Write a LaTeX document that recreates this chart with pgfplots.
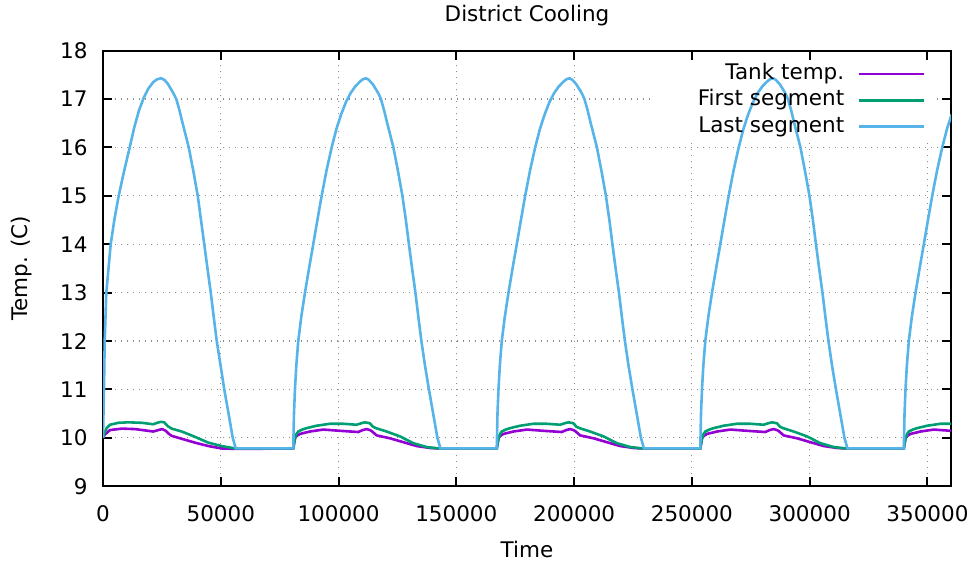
\documentclass[border=0pt]{standalone}
\usepackage{fontspec}
\setmainfont{DejaVu Sans}
\usepackage{pgfplots}
\pgfplotsset{compat=1.18}
\newcommand\ff{\fontsize{10.75}{13}\selectfont}
\definecolor{cTank}{HTML}{9400D3}
\definecolor{cFirst}{HTML}{009E73}
\definecolor{cLast}{HTML}{56B4E9}
\begin{document}
\begin{tikzpicture}
\useasboundingbox (-51.5pt,-42pt) rectangle (437.5pt,243.1pt);
\begin{axis}[
  at={(0,0)}, anchor=south west,
  scale only axis, width=424pt, height=217.75pt,
  xmin=0, xmax=360000, ymin=9, ymax=18,
  xtick={0,50000,100000,150000,200000,250000,300000,350000},
  ytick={9,10,11,12,13,14,15,16,17,18},
  scaled x ticks=false, scaled y ticks=false,
  /pgf/number format/assume math mode=true,
  xticklabel style={font=\ff, anchor=base, yshift=-17.5pt, /pgf/number format/fixed, /pgf/number format/1000 sep={}},
  yticklabel style={font=\ff, anchor=east, inner sep=0pt, xshift=-7.5pt},
  axis line style={line width=1pt},
  every tick/.style={black, line width=1pt},
  major tick length=4.5pt, tick align=inside,
  grid=major,
  major grid style={black!45, line width=0.6pt, dash pattern=on 0.6pt off 2.4pt},
  legend plot pos=right,
  legend image code/.code={\draw[#1, line width=1.3pt] (0pt,0pt) -- (32.5pt,0pt);},
  legend style={at={(rel axis cs:1,1)}, anchor=north east, xshift=-12.7pt, yshift=-5.0pt,
    draw=none, fill=none, font=\ff, inner sep=0pt, row sep=0pt, column sep=5.4pt,
    cells={anchor=east}, nodes={inner sep=1.3pt, text height=8pt, text depth=2.5pt}},
]
\fill[white] (axis cs:234300,16.19) rectangle (axis cs:353100,17.8);
\addplot[cTank, line width=1.3pt] table {
0 10.0
800 10.07
1560 10.10
2970 10.16
7940 10.19
13580 10.18
21350 10.13
23500 10.16
25000 10.18
26500 10.15
28000 10.08
29150 10.04
33400 9.98
39040 9.90
44690 9.83
50360 9.78
56020 9.77
80770 9.78
81490 9.99
82270 10.04
83600 10.08
87850 10.13
93500 10.17
101980 10.14
108350 10.12
110270 10.16
111900 10.18
113270 10.16
114040 10.14
116160 10.05
121800 9.99
127450 9.91
133130 9.83
138780 9.79
142300 9.78
167170 9.78
167890 9.99
168670 10.04
170000 10.08
174250 10.13
179900 10.17
188380 10.14
194750 10.12
196670 10.16
198300 10.18
199670 10.16
200440 10.14
202560 10.05
208200 9.99
213850 9.91
219530 9.83
225180 9.79
228700 9.78
253570 9.78
254290 9.99
255070 10.04
256400 10.08
260650 10.13
266300 10.17
274780 10.14
281150 10.12
283070 10.16
284700 10.18
286070 10.16
286840 10.14
288960 10.05
294600 9.99
300250 9.91
305930 9.83
311580 9.79
315100 9.78
339970 9.78
340690 9.99
341470 10.04
342800 10.08
347050 10.13
352700 10.17
361180 10.14
};
\addlegendentry{Tank temp.}
\addplot[cFirst, line width=1.3pt] table {
0 10.0
800 10.12
1560 10.20
2970 10.27
6500 10.31
10740 10.32
16420 10.31
21350 10.28
23000 10.31
24500 10.33
26000 10.32
27500 10.24
29150 10.19
33400 10.13
39040 10.02
44690 9.90
50360 9.83
56020 9.78
80770 9.78
81490 9.99
82170 10.08
82900 10.13
84570 10.17
86450 10.20
90700 10.25
96340 10.29
101980 10.29
107670 10.27
109570 10.30
111190 10.32
113310 10.30
114570 10.23
115860 10.20
120400 10.13
126050 10.03
131690 9.89
137340 9.81
142300 9.78
167170 9.78
167890 9.99
168570 10.08
169300 10.13
170970 10.17
172850 10.20
177100 10.25
182740 10.29
188380 10.29
194070 10.27
195970 10.30
197590 10.32
199710 10.30
200970 10.23
202260 10.20
206800 10.13
212450 10.03
218090 9.89
223740 9.81
228700 9.78
253570 9.78
254290 9.99
254970 10.08
255700 10.13
257370 10.17
259250 10.20
263500 10.25
269140 10.29
274780 10.29
280470 10.27
282370 10.30
283990 10.32
286110 10.30
287370 10.23
288660 10.20
293200 10.13
298850 10.03
304490 9.89
310140 9.81
315100 9.78
339970 9.78
340690 9.99
341370 10.08
342100 10.13
343770 10.17
345650 10.20
349900 10.25
355540 10.29
361180 10.29
};
\addlegendentry{First segment}
\addplot[cLast, line width=1.3pt] table {
0 10.0
200 10.5
420 11
720 12
1400 13
3270 14
4800 14.5
6660 15
8900 15.5
11330 16
13300 16.42
15300 16.77
17300 17.03
19300 17.22
21300 17.35
23000 17.41
24740 17.43
26200 17.39
27590 17.31
29300 17.17
30200 17.09
31110 17.0
32400 16.78
33800 16.5
36410 16
38400 15.5
40230 15
41600 14.5
42990 14
44350 13.5
45750 13
47000 12.5
48290 12
49900 11.5
51480 11
53300 10.5
55080 10
56360 9.78
80770 9.78
81070 10.5
81490 11
82070 11.5
82890 12
84170 12.5
85740 13
87470 13.5
89260 14
91020 14.5
92820 15
94870 15.52
97070 16.0
99070 16.38
101070 16.68
103070 16.93
105070 17.12
107070 17.26
109070 17.36
110370 17.41
111620 17.43
112770 17.40
114470 17.31
116270 17.17
117170 17.09
117990 17.0
119270 16.78
120670 16.5
123290 16
125270 15.5
127110 15
128570 14.5
129870 14
131220 13.5
132630 13
133870 12.5
135170 12
136670 11.5
138360 11
140170 10.5
141960 10
143240 9.78
167170 9.78
167470 10.5
167890 11
168470 11.5
169290 12
170570 12.5
172140 13
173870 13.5
175660 14
177420 14.5
179220 15
181270 15.52
183470 16.0
185470 16.38
187470 16.68
189470 16.93
191470 17.12
193470 17.26
195470 17.36
196770 17.41
198020 17.43
199170 17.40
200870 17.31
202670 17.17
203570 17.09
204390 17.0
205670 16.78
207070 16.5
209690 16
211670 15.5
213510 15
214970 14.5
216270 14
217620 13.5
219030 13
220270 12.5
221570 12
223070 11.5
224760 11
226570 10.5
228360 10
229640 9.78
253570 9.78
253870 10.5
254290 11
254870 11.5
255690 12
256970 12.5
258540 13
260270 13.5
262060 14
263820 14.5
265620 15
267670 15.52
269870 16.0
271870 16.38
273870 16.68
275870 16.93
277870 17.12
279870 17.26
281870 17.36
283170 17.41
284420 17.43
285570 17.40
287270 17.31
289070 17.17
289970 17.09
290790 17.0
292070 16.78
293470 16.5
296090 16
298070 15.5
299910 15
301370 14.5
302670 14
304020 13.5
305430 13
306670 12.5
307970 12
309470 11.5
311160 11
312970 10.5
314760 10
316040 9.78
339970 9.78
340270 10.5
340690 11
341270 11.5
342090 12
343370 12.5
344940 13
346670 13.5
348460 14
350220 14.5
352020 15
354070 15.52
356270 16.0
358270 16.38
360270 16.68
};
\addlegendentry{Last segment}
\end{axis}
\node[font=\ff, anchor=base] at (212pt,232.4pt) {District Cooling};
\node[font=\ff, anchor=base] at (212pt,-35.5pt) {Time};
\node[font=\ff, anchor=base, rotate=90] at (-37.5pt,108.9pt) {Temp. (C)};
\end{tikzpicture}
\end{document}
